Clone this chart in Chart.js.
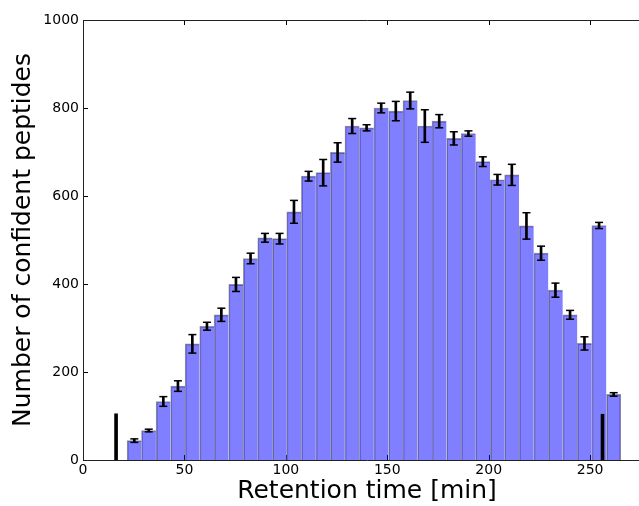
<!DOCTYPE html>
<html>
<head>
<meta charset="utf-8">
<script src="https://cdn.jsdelivr.net/npm/chart.js@4/dist/chart.umd.min.js"></script>
<style>
  html, body { margin: 0; padding: 0; background: #fff; overflow: hidden; }
  #wrap { width: 639px; height: 506px; overflow: hidden; position: relative; }
  #myChart { display: block; }
</style>
</head>
<body>
<div id="wrap"><canvas id="myChart" width="700" height="506"></canvas></div>
<script>
// histogram bins (retention time, min) and peptide counts with error
const binCenters = [25.3, 32.4, 39.6, 46.8, 53.9, 61.1, 68.2, 75.4, 82.6, 89.7,
    96.9, 104.0, 111.2, 118.4, 125.5, 132.7, 139.8, 147.0, 154.2, 161.3,
    168.5, 175.6, 182.8, 190.0, 197.1, 204.3, 211.4, 218.6, 225.8, 232.9,
    240.1, 247.2, 254.4, 261.6];
const counts = [44, 67, 133, 168, 264, 304, 330, 399, 458, 505,
    503, 564, 645, 653, 699, 759, 755, 800, 793, 817,
    759, 770, 731, 742, 678, 637, 648, 532, 470, 386,
    330, 265, 533, 149];
const errors = [4, 3, 11, 12, 21, 9, 15, 16, 12, 10,
    12, 26, 11, 30, 22, 17, 7, 11, 22, 19,
    37, 15, 15, 6, 11, 12, 24, 30, 16, 16,
    10, 15, 7, 4];
// black markers (gradient start / end)
const markerTimes = [16.3, 256.1];
const markerHeights = [105, 104];

const xTicks = [0, 50, 100, 150, 200, 250];
const yTicks = [0, 200, 400, 600, 800, 1000];

const FONT = 'DejaVu Sans';

const histData = binCenters.map((x, i) => ({x: x, y: counts[i]}));
const errData = binCenters.map((x, i) => ({x: x, y: [counts[i] - errors[i], counts[i] + errors[i]]}));
const capData = [];
binCenters.forEach((x, i) => {
    capData.push({x: x, y: counts[i] - errors[i]});
    capData.push({x: x, y: counts[i] + errors[i]});
});
const markerData = markerTimes.map((x, i) => ({x: x, y: markerHeights[i]}));

// inward ticks on all four sides, drawn under the bars
const insideTicks = {
    id: 'insideTicks',
    beforeDatasetsDraw(chart) {
        const {ctx, chartArea: a, scales} = chart;
        ctx.save();
        ctx.strokeStyle = '#000';
        ctx.lineWidth = 1;
        ctx.beginPath();
        xTicks.forEach(v => {
            const px = Math.round(scales.x.getPixelForValue(v)) + 0.5;
            ctx.moveTo(px, a.bottom); ctx.lineTo(px, a.bottom - 5);
            ctx.moveTo(px, a.top); ctx.lineTo(px, a.top + 5);
        });
        yTicks.forEach(v => {
            const py = Math.round(scales.y.getPixelForValue(v)) + 0.5;
            ctx.moveTo(a.left, py); ctx.lineTo(a.left + 5, py);
        });
        ctx.stroke();
        ctx.restore();
    },
    afterDatasetsDraw(chart) {
        const {ctx, chartArea: a} = chart;
        const l = Math.round(a.left) + 0.5, t = Math.round(a.top) + 0.5;
        const b = Math.round(a.bottom) + 0.5, r = Math.round(a.right);
        ctx.save();
        ctx.strokeStyle = '#222';
        ctx.lineWidth = 1;
        ctx.beginPath();
        ctx.moveTo(r, t); ctx.lineTo(l, t); ctx.lineTo(l, b); ctx.lineTo(r, b);
        ctx.stroke();
        ctx.restore();
    }
};

const last = counts.length - 1;

new Chart(document.getElementById('myChart'), {
    type: 'bar',
    plugins: [insideTicks],
    data: {
        datasets: [
            {
                type: 'scatter',
                data: capData,
                pointStyle: 'line',
                radius: 4,
                borderWidth: 1.5,
                borderColor: '#000',
                hoverRadius: 4
            },
            {
                data: errData,
                backgroundColor: '#000',
                borderWidth: 0,
                barThickness: 2,
                grouped: false
            },
            {
                data: markerData,
                xAxisID: 'x2',
                backgroundColor: '#000',
                borderWidth: 0,
                barThickness: 3,
                grouped: false
            },
            {
                data: histData,
                backgroundColor: 'rgba(0, 0, 255, 0.5)',
                borderColor: '#959595',
                borderWidth: ctx => ({top: 1, left: 1, right: ctx.dataIndex === last ? 1 : 0, bottom: 0}),
                categoryPercentage: 1,
                barPercentage: 1,
                grouped: false
            }
        ]
    },
    options: {
        responsive: false,
        animation: false,
        events: [],
        layout: {padding: {top: 20, right: 49, left: 0, bottom: 0}},
        plugins: {legend: {display: false}, tooltip: {enabled: false}},
        scales: {
            x: {
                type: 'linear',
                min: 0,
                max: 280,
                offset: false,
                grid: {display: false, drawTicks: false},
                border: {display: false},
                ticks: {
                    stepSize: 50,
                    includeBounds: false,
                    padding: 2,
                    color: '#000',
                    font: {family: FONT, size: 14},
                    maxRotation: 0,
                    callback: v => String(v)
                },
                title: {
                    display: true,
                    text: 'Retention time [min]',
                    color: '#000',
                    font: {family: FONT, size: 25},
                    padding: {top: 0, bottom: 0}
                },
                afterFit(scale) { scale.height = 46; }
            },
            x2: {
                type: 'linear',
                min: 0,
                max: 280,
                offset: false,
                display: false
            },
            y: {
                min: 0,
                max: 1000,
                grid: {display: false, drawTicks: false},
                border: {display: false},
                ticks: {
                    stepSize: 200,
                    padding: 4,
                    color: '#000',
                    font: {family: FONT, size: 14},
                    callback: v => String(v)
                },
                title: {
                    display: true,
                    text: 'Number of confident peptides',
                    color: '#000',
                    font: {family: FONT, size: 25},
                    padding: {top: 8, bottom: 0}
                },
                afterFit(scale) { scale.width = 83; }
            }
        }
    }
});
</script>
</body>
</html>
